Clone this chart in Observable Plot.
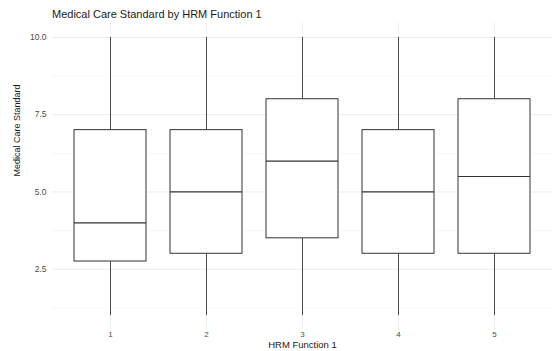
<!DOCTYPE html>
<html><head><meta charset="utf-8">
<script src="https://cdn.jsdelivr.net/npm/d3@7"></script>
<script src="https://cdn.jsdelivr.net/npm/@observablehq/plot@0.6"></script>
<style>
body{margin:0;background:#fff;font-family:"Liberation Sans",Arial,sans-serif;}
#wrap{position:relative;width:552px;height:351px;}
#title{position:absolute;left:52px;top:8px;font-size:11px;color:#1a1a1a;}
</style></head><body>
<div id="wrap"><div id="title">Medical Care Standard by HRM Function 1</div></div>
<script>
const categories = ["1","2","3","4","5"];
const mins    = [1, 1, 1, 1, 1];
const q1      = [2.75, 3, 3.5, 3, 3];
const medians = [4, 5, 6, 5, 5.5];
const q3      = [7, 7, 8, 7, 8];
const maxs    = [10, 10, 10, 10, 10];
const majorTicks = [2.5, 5, 7.5, 10];
const minorTicks = [1.25, 3.75, 6.25, 8.75];
const xTitle = "HRM Function 1";
const yTitle = "Medical Care Standard";

const data = categories.map((c,i)=>({cat:c,min:mins[i],q1:q1[i],med:medians[i],q3:q3[i],max:maxs[i]}));

const chart = Plot.plot({
  width: 552, height: 351,
  marginTop: 23, marginBottom: 22, marginLeft: 52, marginRight: 0,
  style: {background:"#fff", fontFamily:"Liberation Sans, Arial, sans-serif", fontSize:"8px", color:"#4d4d4d"},
  x: {domain: categories, paddingInner: 0.25, paddingOuter: 0.225},
  y: {domain: [0.55, 10.45]},
  marks: [
    Plot.ruleY(minorTicks, {stroke:"#f2f2f2", strokeWidth:0.6}),
    Plot.ruleY(majorTicks, {stroke:"#ebebeb", strokeWidth:1}),
    Plot.ruleX(categories, {x: d=>d, stroke:"#ebebeb", strokeWidth:1}),
    Plot.ruleX(data, {x:"cat", y1:"min", y2:"q1", stroke:"#4a4a4a", strokeWidth:1}),
    Plot.ruleX(data, {x:"cat", y1:"q3", y2:"max", stroke:"#4a4a4a", strokeWidth:1}),
    Plot.barY(data, {x:"cat", y1:"q1", y2:"q3", fill:"#fff", stroke:"#333", strokeWidth:1}),
    Plot.tickY(data, {x:"cat", y:"med", stroke:"#333", strokeWidth:1.2}),
    Plot.axisY({ticks: majorTicks, tickFormat: d3.format(".1f"), tickSize:0, tickPadding:6, fontSize:8.5, fill:"#4d4d4d", label:null}),
    Plot.axisX({tickSize:0, tickPadding:2, fontSize:8, fill:"#4d4d4d", label:null}),
    Plot.text([xTitle], {text: d=>d, frameAnchor:"bottom", dy:15.5, fontSize:9.5, fill:"#1a1a1a", lineAnchor:"middle"}),
    Plot.text([yTitle], {text: d=>d, frameAnchor:"left", dx:-35, rotate:-90, fontSize:9, fill:"#1a1a1a"})
  ]
});
document.getElementById("wrap").appendChild(chart);
</script></body></html>
